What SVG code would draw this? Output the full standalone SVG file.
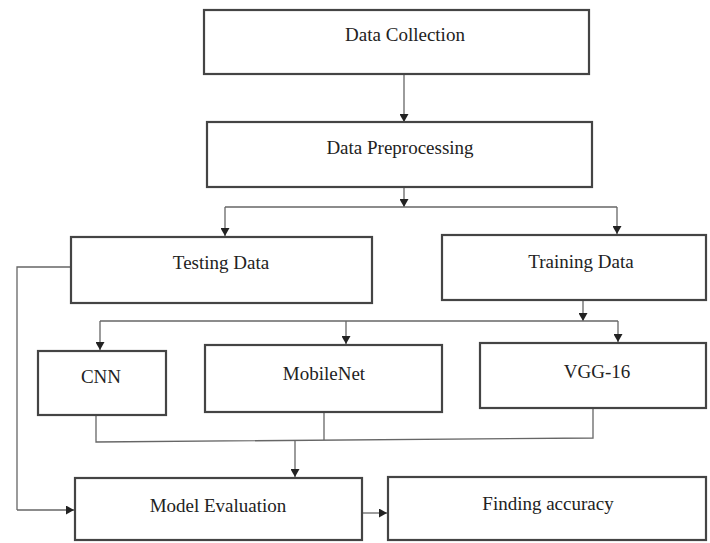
<svg xmlns="http://www.w3.org/2000/svg" width="710" height="543" viewBox="0 0 710 543">
<defs>
<marker id="ah" markerWidth="8" markerHeight="9" refX="8" refY="4.5" orient="auto" markerUnits="userSpaceOnUse">
<path d="M0,0 L8,4.5 L0,9 Z" fill="#222"/>
</marker>
<style>
.box{fill:#fff;stroke:#444;stroke-width:2.2}
.lbl{font-family:"Liberation Serif","Times New Roman",serif;font-size:19px;fill:#222;text-anchor:middle}
.con{fill:none;stroke:#666;stroke-width:1.3}
.arr{fill:none;stroke:#666;stroke-width:1.3;marker-end:url(#ah)}
</style>
</defs>
<rect width="710" height="543" fill="#fff"/>
<g id="connectors">
<path class="arr" d="M404,74 V122"/>
<path class="arr" d="M404,187 V207"/>
<path class="con" d="M225,207 H617"/>
<path class="arr" d="M225,207 V236"/>
<path class="arr" d="M617,207 V234"/>
<path class="arr" d="M583,300 V321"/>
<path class="con" d="M100,321 H618"/>
<path class="arr" d="M100,321 V350"/>
<path class="arr" d="M346,321 V344"/>
<path class="arr" d="M618,321 V342"/>
<path class="con" d="M96,415 V442 L593,438 V408"/>
<path class="con" d="M324,412 V440"/>
<path class="arr" d="M295,440 V477"/>
<path class="con" d="M71,267 H17 V510"/>
<path class="arr" d="M17,510 H74"/>
<path class="arr" d="M362,513 H387"/>
</g>
<g id="data-collection"><rect class="box" x="204" y="10" width="385" height="64"/><text class="lbl" x="405" y="41">Data Collection</text></g>
<g id="data-preprocessing"><rect class="box" x="207" y="122" width="385" height="65"/><text class="lbl" x="400" y="154">Data Preprocessing</text></g>
<g id="testing-data"><rect class="box" x="71" y="237" width="301" height="66"/><text class="lbl" x="221" y="269">Testing Data</text></g>
<g id="training-data"><rect class="box" x="442" y="235" width="264" height="65"/><text class="lbl" x="581" y="268">Training Data</text></g>
<g id="cnn"><rect class="box" x="38" y="351" width="128" height="64"/><text class="lbl" x="101" y="383">CNN</text></g>
<g id="mobilenet"><rect class="box" x="205" y="345" width="237" height="67"/><text class="lbl" x="324" y="380">MobileNet</text></g>
<g id="vgg16"><rect class="box" x="480" y="343" width="226" height="65"/><text class="lbl" x="597" y="378">VGG-16</text></g>
<g id="model-evaluation"><rect class="box" x="75" y="478" width="287" height="62"/><text class="lbl" x="218" y="512">Model Evaluation</text></g>
<g id="finding-accuracy"><rect class="box" x="388" y="477" width="318" height="63"/><text class="lbl" x="548" y="510">Finding accuracy</text></g>
</svg>
